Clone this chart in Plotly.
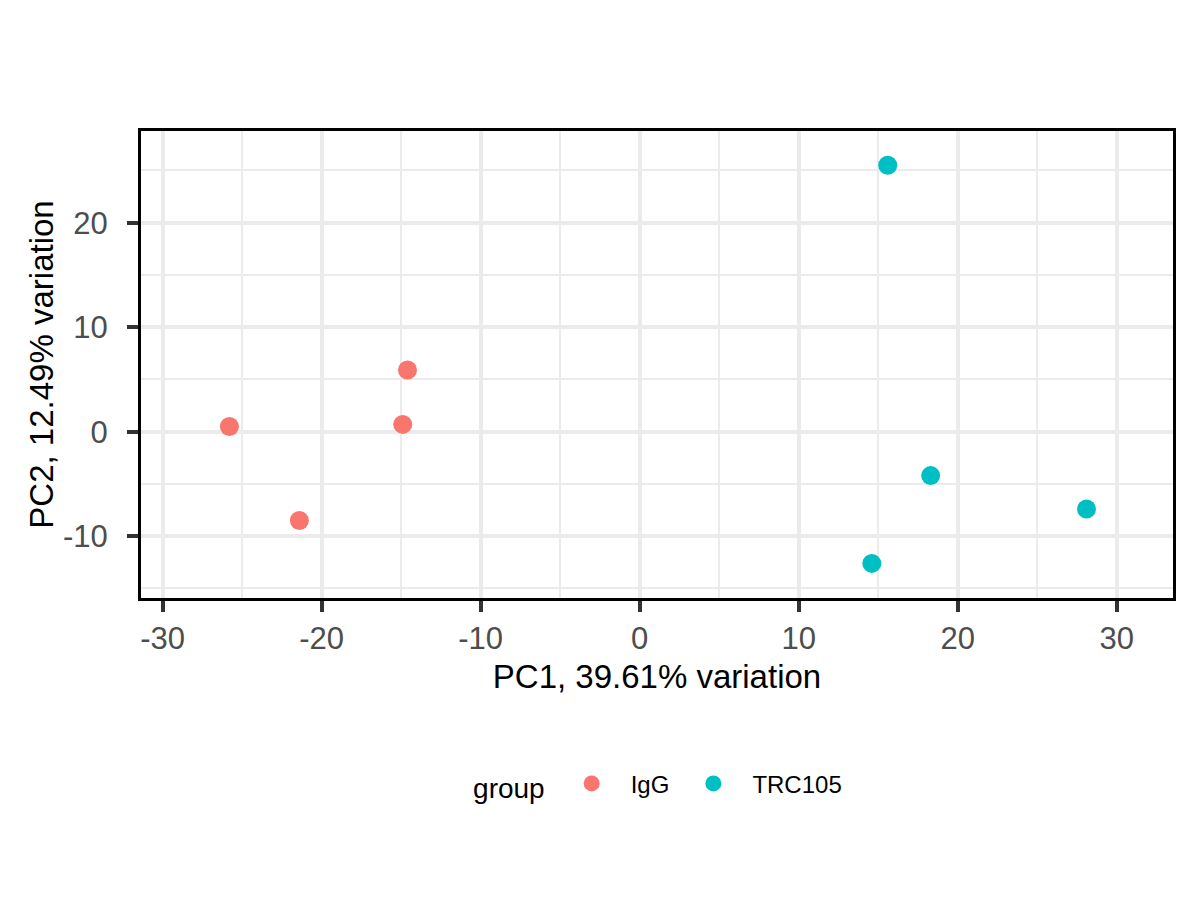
import plotly.graph_objects as go

# PCA scores
igg_pc1 = [-25.8, -21.4, -14.6, -14.9]
igg_pc2 = [0.5, -8.5, 5.9, 0.7]
trc_pc1 = [15.6, 18.3, 28.1, 14.6]
trc_pc2 = [25.5, -4.2, -7.4, -12.6]

groups = ["IgG", "TRC105"]
colors = ["#F8766D", "#00BFC4"]

x_ticks = [-30, -20, -10, 0, 10, 20, 30]
y_ticks = [-10, 0, 10, 20]

font = "Liberation Sans, Arial, Helvetica, sans-serif"

fig = go.Figure()
for name, xs, ys, col in zip(groups, [igg_pc1, trc_pc1], [igg_pc2, trc_pc2], colors):
    fig.add_trace(go.Scatter(
        x=xs, y=ys, mode="markers", name=name,
        marker=dict(size=19, color=col, line=dict(width=0)),
    ))

axis_common = dict(
    showline=True, mirror=True, linecolor="black", linewidth=3,
    ticks="outside", ticklen=11, tickwidth=4, tickcolor="#333333",
    tickfont=dict(size=31, color="#4D4D4D", family=font),
    showgrid=True, gridcolor="#EBEBEB", gridwidth=3.5,
    zeroline=False,
    minor=dict(showgrid=True, gridcolor="#EBEBEB", gridwidth=2, ticklen=0),
)

fig.update_xaxes(
    range=[-31.36, 33.54], tickvals=x_ticks, ticktext=[str(v) for v in x_ticks],
    minor_dtick=5, minor_tick0=5,
    title=dict(text="PC1, 39.61% variation", font=dict(size=33, color="black", family=font), standoff=10),
    **axis_common,
)
fig.update_yaxes(
    range=[-15.91, 28.77], tickvals=y_ticks, ticktext=[str(v) for v in y_ticks],
    minor_dtick=5, minor_tick0=5, ticklabelstandoff=13,
    title=dict(text="PC2, 12.49% variation", font=dict(size=33, color="black", family=font), standoff=0),
    **axis_common,
)

fig.update_layout(
    width=1200, height=900, autosize=False,
    margin=dict(l=133, r=35, t=123, b=310),
    plot_bgcolor="white", paper_bgcolor="white",
    font=dict(family=font, color="black"),
    legend=dict(
        orientation="h", x=0.502, xanchor="center", y=-0.40, yanchor="middle",
        title=dict(text="group", font=dict(size=28)),
        font=dict(size=24), itemsizing="trace", itemwidth=68,
    ),
)

fig.write_html("out.html")
